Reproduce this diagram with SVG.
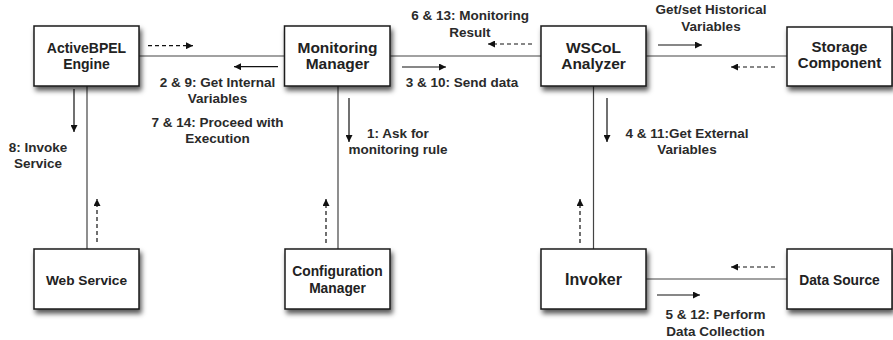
<svg xmlns="http://www.w3.org/2000/svg" width="893" height="340" viewBox="0 0 893 340">
<style>
.box{fill:#fff;stroke:#1a1a1a;stroke-width:1.5;filter:url(#sh)}
.nt{font-family:"Liberation Sans",Arial,sans-serif;font-weight:bold;fill:#222;text-anchor:middle}
.lb{font-family:"Liberation Sans",Arial,sans-serif;font-weight:bold;font-size:13.5px;fill:#2a2a2a;text-anchor:middle}
.con{stroke:#444;stroke-width:1.2;fill:none}
.ar{stroke:#111;stroke-width:1.2;fill:none;marker-end:url(#ah)}
.da{stroke:#111;stroke-width:1.2;fill:none;stroke-dasharray:4 3;marker-end:url(#ah)}
</style>
<defs>
<filter id="sh" x="-20%" y="-20%" width="140%" height="150%">
<feDropShadow dx="2" dy="4" stdDeviation="2.5" flood-color="#000" flood-opacity="0.65"/>
</filter>
<marker id="ah" viewBox="0 0 10 10" refX="10" refY="5" markerWidth="8" markerHeight="7" markerUnits="userSpaceOnUse" orient="auto">
<path d="M0,0 L10,5 L0,10 z" fill="#111"/>
</marker>
</defs>
<g id="connectors">
<line class="con" x1="139" y1="56" x2="284" y2="56"/>
<line class="con" x1="390" y1="56" x2="541" y2="56"/>
<line class="con" x1="646" y1="56" x2="787" y2="56"/>
<line class="con" x1="87" y1="86" x2="87" y2="249"/>
<line class="con" x1="338" y1="86" x2="338" y2="249"/>
<line class="con" x1="593.5" y1="86" x2="593.5" y2="249"/>
<line class="con" x1="646" y1="279" x2="787" y2="279"/>
<line class="da" x1="148" y1="45.7" x2="193" y2="45.7"/>
<line class="ar" x1="278" y1="66.7" x2="234" y2="66.7"/>
<line class="ar" x1="74" y1="89" x2="74" y2="132"/>
<line class="da" x1="97" y1="242" x2="97" y2="199"/>
<line class="da" x1="532" y1="44" x2="488" y2="44"/>
<line class="ar" x1="402" y1="67" x2="446" y2="67"/>
<line class="ar" x1="349" y1="98" x2="349" y2="142"/>
<line class="da" x1="326" y1="243" x2="326" y2="199"/>
<line class="ar" x1="658" y1="45" x2="702" y2="45"/>
<line class="da" x1="775" y1="67" x2="731" y2="67"/>
<line class="ar" x1="607" y1="98" x2="607" y2="142"/>
<line class="da" x1="580" y1="243" x2="580" y2="199"/>
<line class="da" x1="775" y1="267" x2="731" y2="267"/>
<line class="ar" x1="657" y1="295" x2="700" y2="295"/>
<text class="lb"><tspan x="217.5" y="86.7">2 &amp; 9: Get Internal</tspan><tspan x="217.5" y="103.3">Variables</tspan></text>
<text class="lb"><tspan x="217.5" y="126.7">7 &amp; 14: Proceed with</tspan><tspan x="217.5" y="143.3">Execution</tspan></text>
<text class="lb"><tspan x="38" y="151.7">8: Invoke</tspan><tspan x="38" y="168.3">Service</tspan></text>
<text class="lb"><tspan x="470" y="20">6 &amp; 13: Monitoring</tspan><tspan x="470" y="36.7">Result</tspan></text>
<text class="lb" x="462" y="86.7">3 &amp; 10: Send data</text>
<text class="lb"><tspan x="398" y="137.7">1: Ask for</tspan><tspan x="398" y="154.3">monitoring rule</tspan></text>
<text class="lb"><tspan x="711" y="14.3">Get/set Historical</tspan><tspan x="711" y="30.7">Variables</tspan></text>
<text class="lb"><tspan x="687" y="137.7">4 &amp; 11:Get External</tspan><tspan x="687" y="154.3">Variables</tspan></text>
<text class="lb"><tspan x="715.5" y="319">5 &amp; 12: Perform</tspan><tspan x="715.5" y="335.7">Data Collection</tspan></text>
</g>
<g id="activebpel">
<rect class="box" x="34" y="26" width="105" height="60"/>
<text class="nt" font-size="14"><tspan x="86.5" y="52.7">ActiveBPEL</tspan><tspan x="86.5" y="69.3">Engine</tspan></text>
</g>
<g id="monitoring-manager">
<rect class="box" x="284.5" y="26" width="105.5" height="60"/>
<text class="nt" font-size="15.5"><tspan x="337.5" y="52.5">Monitoring</tspan><tspan x="337.5" y="69.3">Manager</tspan></text>
</g>
<g id="wscol-analyzer">
<rect class="box" x="541" y="26" width="105" height="60"/>
<text class="nt" font-size="15.5"><tspan x="593.5" y="52.5">WSCoL</tspan><tspan x="593.5" y="69.3">Analyzer</tspan></text>
</g>
<g id="storage-component">
<rect class="box" x="787" y="27" width="105" height="59"/>
<text class="nt" font-size="15"><tspan x="839.5" y="51.7">Storage</tspan><tspan x="839.5" y="68.3">Component</tspan></text>
</g>
<g id="web-service">
<rect class="box" x="34" y="249" width="105" height="60"/>
<text class="nt" font-size="13.7" x="86.5" y="285">Web Service</text>
</g>
<g id="configuration-manager">
<rect class="box" x="285" y="249" width="105" height="60"/>
<text class="nt" font-size="13.8"><tspan x="337.5" y="276">Configuration</tspan><tspan x="337.5" y="292.7">Manager</tspan></text>
</g>
<g id="invoker">
<rect class="box" x="541" y="249" width="105" height="60"/>
<text class="nt" font-size="16" x="593.5" y="285">Invoker</text>
</g>
<g id="data-source">
<rect class="box" x="787" y="249" width="105" height="60"/>
<text class="nt" font-size="13.8" x="839.5" y="285">Data Source</text>
</g>
</svg>
